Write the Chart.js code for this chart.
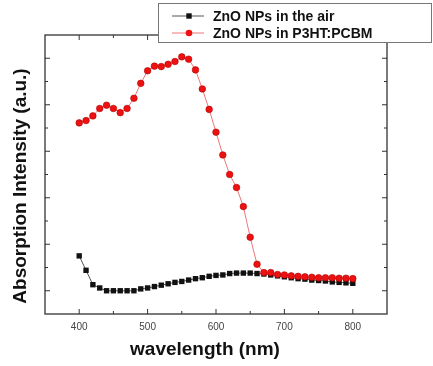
<!DOCTYPE html>
<html>
<head>
<meta charset="utf-8">
<script src="https://cdn.jsdelivr.net/npm/chart.js@4.4.0/dist/chart.umd.min.js"></script>
<style>
html, body { margin: 0; padding: 0; background: #fff; }
#wrap { width: 433px; height: 366px; }
</style>
</head>
<body>
<div id="wrap"><canvas id="chart"></canvas></div>
<script>
const wavelengths = [400, 410, 420, 430, 440, 450, 460, 470, 480, 490, 500, 510, 520, 530, 540, 550, 560, 570, 580, 590, 600,
	610, 620, 630, 640, 650, 660, 670, 680, 690, 700, 710, 720, 730, 740, 750, 760, 770, 780, 790, 800];
const airValues = [0.75, 0.44, 0.13, 0.06, 0.0, 0.0, 0.0, 0.0, 0.0, 0.04, 0.06, 0.09, 0.12, 0.15, 0.18, 0.2, 0.23, 0.26, 0.28, 0.31, 0.33,
	0.34, 0.37, 0.38, 0.38, 0.38, 0.37, 0.36, 0.34, 0.32, 0.3, 0.28, 0.26, 0.25, 0.23, 0.22, 0.21, 0.19, 0.18, 0.17, 0.16];
const p3htValues = [3.61, 3.66, 3.76, 3.92, 3.99, 3.92, 3.83, 3.92, 4.14, 4.46, 4.73, 4.83, 4.82, 4.87, 4.93, 5.03, 4.98, 4.75, 4.34, 3.9, 3.41,
	2.92, 2.5, 2.22, 1.81, 1.15, 0.57, 0.39, 0.39, 0.35, 0.34, 0.32, 0.31, 0.3, 0.29, 0.28, 0.28, 0.28, 0.27, 0.27, 0.26];
const xTickValues = [400, 500, 600, 700, 800];
const xMinorTicks = [450, 550, 650, 750];
const yMajorTicks = [0, 1, 2, 3, 4, 5];
const yMinorTicks = [0.5, 1.5, 2.5, 3.5, 4.5];
const seriesLabels = ["ZnO NPs in the air", "ZnO NPs in P3HT:PCBM"];

const toPoints = (values) => wavelengths.map((x, i) => ({ x, y: values[i] }));

// frame, inward ticks, axis titles and the boxed legend
const framePlugin = {
	id: "frame",
	afterDraw(chart) {
		const { ctx, chartArea: a, scales } = chart;
		const sx = scales.x, sy = scales.y;
		ctx.save();
		ctx.strokeStyle = "#333";
		ctx.lineWidth = 1.3;
		ctx.strokeRect(a.left, a.top, a.right - a.left, a.bottom - a.top);

		ctx.lineWidth = 1;
		const tick = (x1, y1, x2, y2) => {
			ctx.beginPath();
			ctx.moveTo(x1, y1);
			ctx.lineTo(x2, y2);
			ctx.stroke();
		};
		xTickValues.concat(xMinorTicks).forEach((v) => {
			const len = xTickValues.includes(v) ? 5 : 3;
			const px = sx.getPixelForValue(v);
			tick(px, a.bottom, px, a.bottom - len);
			tick(px, a.top, px, a.top + len);
		});
		yMajorTicks.concat(yMinorTicks).forEach((v) => {
			const len = yMajorTicks.includes(v) ? 5 : 3;
			const py = sy.getPixelForValue(v);
			tick(a.left, py, a.left + len, py);
			tick(a.right, py, a.right - len, py);
		});

		// axis titles
		ctx.fillStyle = "#111";
		ctx.font = "bold 19px 'Liberation Sans', Arial, sans-serif";
		ctx.textAlign = "center";
		ctx.textBaseline = "middle";
		ctx.fillText("wavelength (nm)", 205, 350);
		ctx.save();
		ctx.translate(21, 186);
		ctx.rotate(-Math.PI / 2);
		ctx.fillText("Absorption Intensity (a.u.)", 0, 0);
		ctx.restore();

		// legend box
		ctx.fillStyle = "#fff";
		ctx.fillRect(158, 3, 274, 40);
		ctx.strokeStyle = "#777";
		ctx.lineWidth = 1;
		ctx.strokeRect(158.5, 3.5, 273, 39);
		const rows = [
			{ y: 16, line: "#555", draw: (x, y) => { ctx.fillStyle = "#111"; ctx.fillRect(x - 2.7, y - 2.7, 5.4, 5.4); } },
			{ y: 33, line: "#ee7777", draw: (x, y) => {
				ctx.fillStyle = "#ee1111";
				ctx.beginPath();
				ctx.arc(x, y, 3.3, 0, Math.PI * 2);
				ctx.fill();
			} }
		];
		rows.forEach((r, i) => {
			ctx.strokeStyle = r.line;
			tick(172, r.y, 204, r.y);
			r.draw(189, r.y);
			ctx.fillStyle = "#111";
			ctx.font = "bold 14px 'Liberation Sans', Arial, sans-serif";
			ctx.textAlign = "left";
			ctx.fillText(seriesLabels[i], 213, r.y + 1);
		});
		ctx.restore();
	}
};

const chart = new Chart(document.getElementById("chart"), {
	type: "scatter",
	data: {
		datasets: [
			{
				label: seriesLabels[1],
				data: toPoints(p3htValues),
				showLine: true,
				borderColor: "#ee7777",
				borderWidth: 1,
				pointStyle: "circle",
				pointRadius: 3.3,
				pointBackgroundColor: "#ee1111",
				pointBorderColor: "#b00000",
				pointBorderWidth: 0.6
			},
			{
				label: seriesLabels[0],
				data: toPoints(airValues),
				showLine: true,
				borderColor: "#555",
				borderWidth: 1,
				pointStyle: "rect",
				pointRadius: 3.8,
				pointBackgroundColor: "#111",
				pointBorderColor: "#111",
				pointBorderWidth: 0
			}
		]
	},
	options: {
		responsive: true,
		maintainAspectRatio: false,
		animation: false,
		layout: { padding: { left: 45, right: 46, top: 35, bottom: 0 } },
		plugins: { legend: { display: false }, tooltip: { enabled: false } },
		scales: {
			x: {
				type: "linear",
				min: 350,
				max: 850,
				afterBuildTicks: (scale) => { scale.ticks = xTickValues.map((v) => ({ value: v })); },
				afterFit: (scale) => { scale.height = 52; },
				grid: { display: false, drawTicks: false },
				border: { display: false },
				ticks: {
					color: "#444",
					padding: 7,
					maxRotation: 0,
					font: { family: "'Liberation Sans', Arial, sans-serif", size: 10 }
				}
			},
			y: {
				display: false,
				min: -0.5,
				max: 5.5
			}
		}
	},
	plugins: [framePlugin]
});
</script>
</body>
</html>
